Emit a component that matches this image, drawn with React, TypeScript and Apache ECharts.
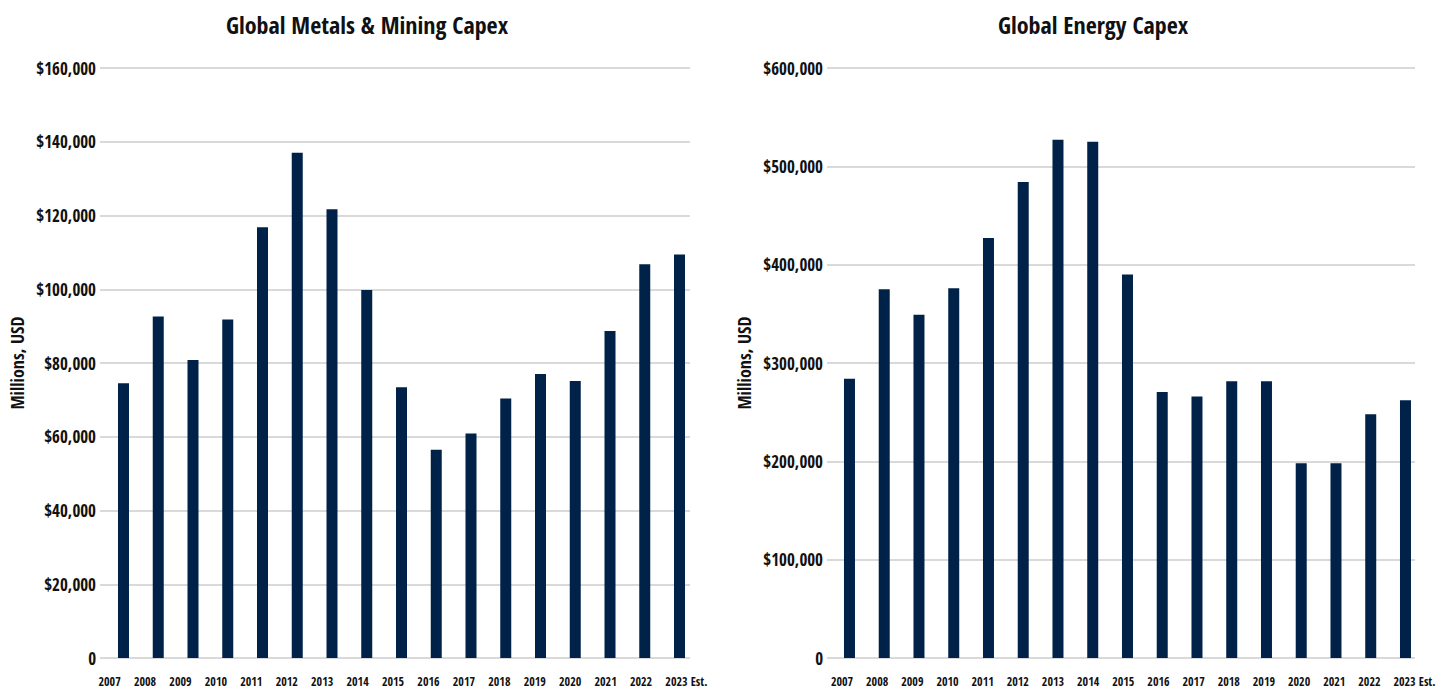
import React, { useEffect, useRef } from "react";
import * as echarts from "echarts";

const years = ["2007","2008","2009","2010","2011","2012","2013","2014","2015","2016","2017","2018","2019","2020","2021","2022","2023"];
const estLabel = "Est.";
const metalsCapex = [74500, 92600, 80800, 91800, 116800, 137000, 121700, 99800, 73400, 56500, 60900, 70400, 77000, 75100, 88700, 106800, 109400];
const energyCapex = [284000, 375000, 349000, 376000, 427000, 484000, 527000, 525000, 390000, 270500, 266000, 281500, 281500, 198000, 198000, 248000, 262000];
const metalsTicks = { max: 160000, interval: 20000 };
const energyTicks = { max: 600000, interval: 100000 };
const titles = ["Global Metals & Mining Capex", "Global Energy Capex"];
const yName = "Millions, USD";

const FONT = "'Open Sans Condensed', 'Roboto Condensed', sans-serif";
const NAVY = "#002248";
const INK = "#111111";

function fmtMoney(v: number) {
  if (v === 0) return "0";
  return "$" + v.toLocaleString("en-US");
}

export default function App() {
  const ref = useRef<HTMLDivElement>(null);
  useEffect(() => {
    if (!ref.current) return;
    const chart = echarts.init(ref.current, null, { renderer: "svg" });
    const idx = years.map((_, i) => i);
    const xFont = { fontFamily: FONT, fontSize: 12, fontWeight: "bold" as const, color: INK };
    // axis carrying the bars (no labels)
    const barAxis = (gi: number, min: number, max: number) => ({
      type: "value",
      gridIndex: gi,
      position: "bottom",
      min,
      max,
      axisLine: { show: false },
      axisTick: { show: false },
      splitLine: { show: false },
      axisLabel: { show: false },
    });
    // axis carrying the year labels
    const labelAxis = (gi: number, min: number, max: number) => ({
      type: "value",
      gridIndex: gi,
      position: "bottom",
      offset: 0,
      min,
      max,
      axisLine: { show: false },
      axisTick: { show: false },
      splitLine: { show: false },
      axisLabel: {
        customValues: idx,
        margin: 17,
        hideOverlap: false,
        showMinLabel: true,
        showMaxLabel: true,
        ...xFont,
        formatter: (v: number) => {
          const i = Math.round(v);
          if (i === years.length - 1) return "{p| }{y|" + years[i] + "}{e| " + estLabel + "}";
          return years[i] ?? "";
        },
        rich: {
          p: { width: 20, ...xFont },
          y: { ...xFont },
          e: { width: 20, align: "left", ...xFont },
        },
      },
    });
    const yAxisFor = (gi: number, t: { max: number; interval: number }) => ({
      type: "value",
      gridIndex: gi,
      min: 0,
      max: t.max,
      interval: t.interval,
      name: yName,
      nameLocation: "middle",
      nameGap: 74,
      nameTextStyle: { fontFamily: FONT, fontSize: 18, fontWeight: "bold", color: INK },
      axisLine: { show: false },
      axisTick: { show: false },
      splitLine: { lineStyle: { color: "#cccccc", width: 1.5 } },
      axisLabel: { fontFamily: FONT, fontSize: 17, fontWeight: "bold", color: INK, margin: 4, formatter: fmtMoney },
    });
    const titleStyle = { fontFamily: FONT, fontSize: 24, fontWeight: "bold", color: INK };
    chart.setOption({
      animation: false,
      backgroundColor: "#ffffff",
      title: [
        { text: titles[0], left: 362, top: 7, textAlign: "center", textStyle: titleStyle },
        { text: titles[1], left: 1088, top: 7, textAlign: "center", textStyle: titleStyle },
      ],
      grid: [
        { left: 100, width: 590, top: 68, height: 590 },
        { left: 827, width: 588, top: 68, height: 590 },
      ],
      xAxis: [
        barAxis(0, -0.676, 16.302),
        labelAxis(0, -0.271, 16.382),
        barAxis(1, -0.647, 16.274),
        labelAxis(1, -0.427, 16.297),
      ],
      yAxis: [yAxisFor(0, metalsTicks), yAxisFor(1, energyTicks)],
      series: [
        {
          type: "bar",
          xAxisIndex: 0,
          yAxisIndex: 0,
          barWidth: 11,
          itemStyle: { color: NAVY },
          data: metalsCapex.map((v, i) => [i, v]),
        },
        {
          type: "bar",
          xAxisIndex: 2,
          yAxisIndex: 1,
          barWidth: 11,
          itemStyle: { color: NAVY },
          data: energyCapex.map((v, i) => [i, v]),
        },
      ],
    });
    return () => chart.dispose();
  }, []);
  return <div ref={ref} style={{ position: "fixed", left: 0, top: 0, width: 1455, height: 690 }} />;
}
